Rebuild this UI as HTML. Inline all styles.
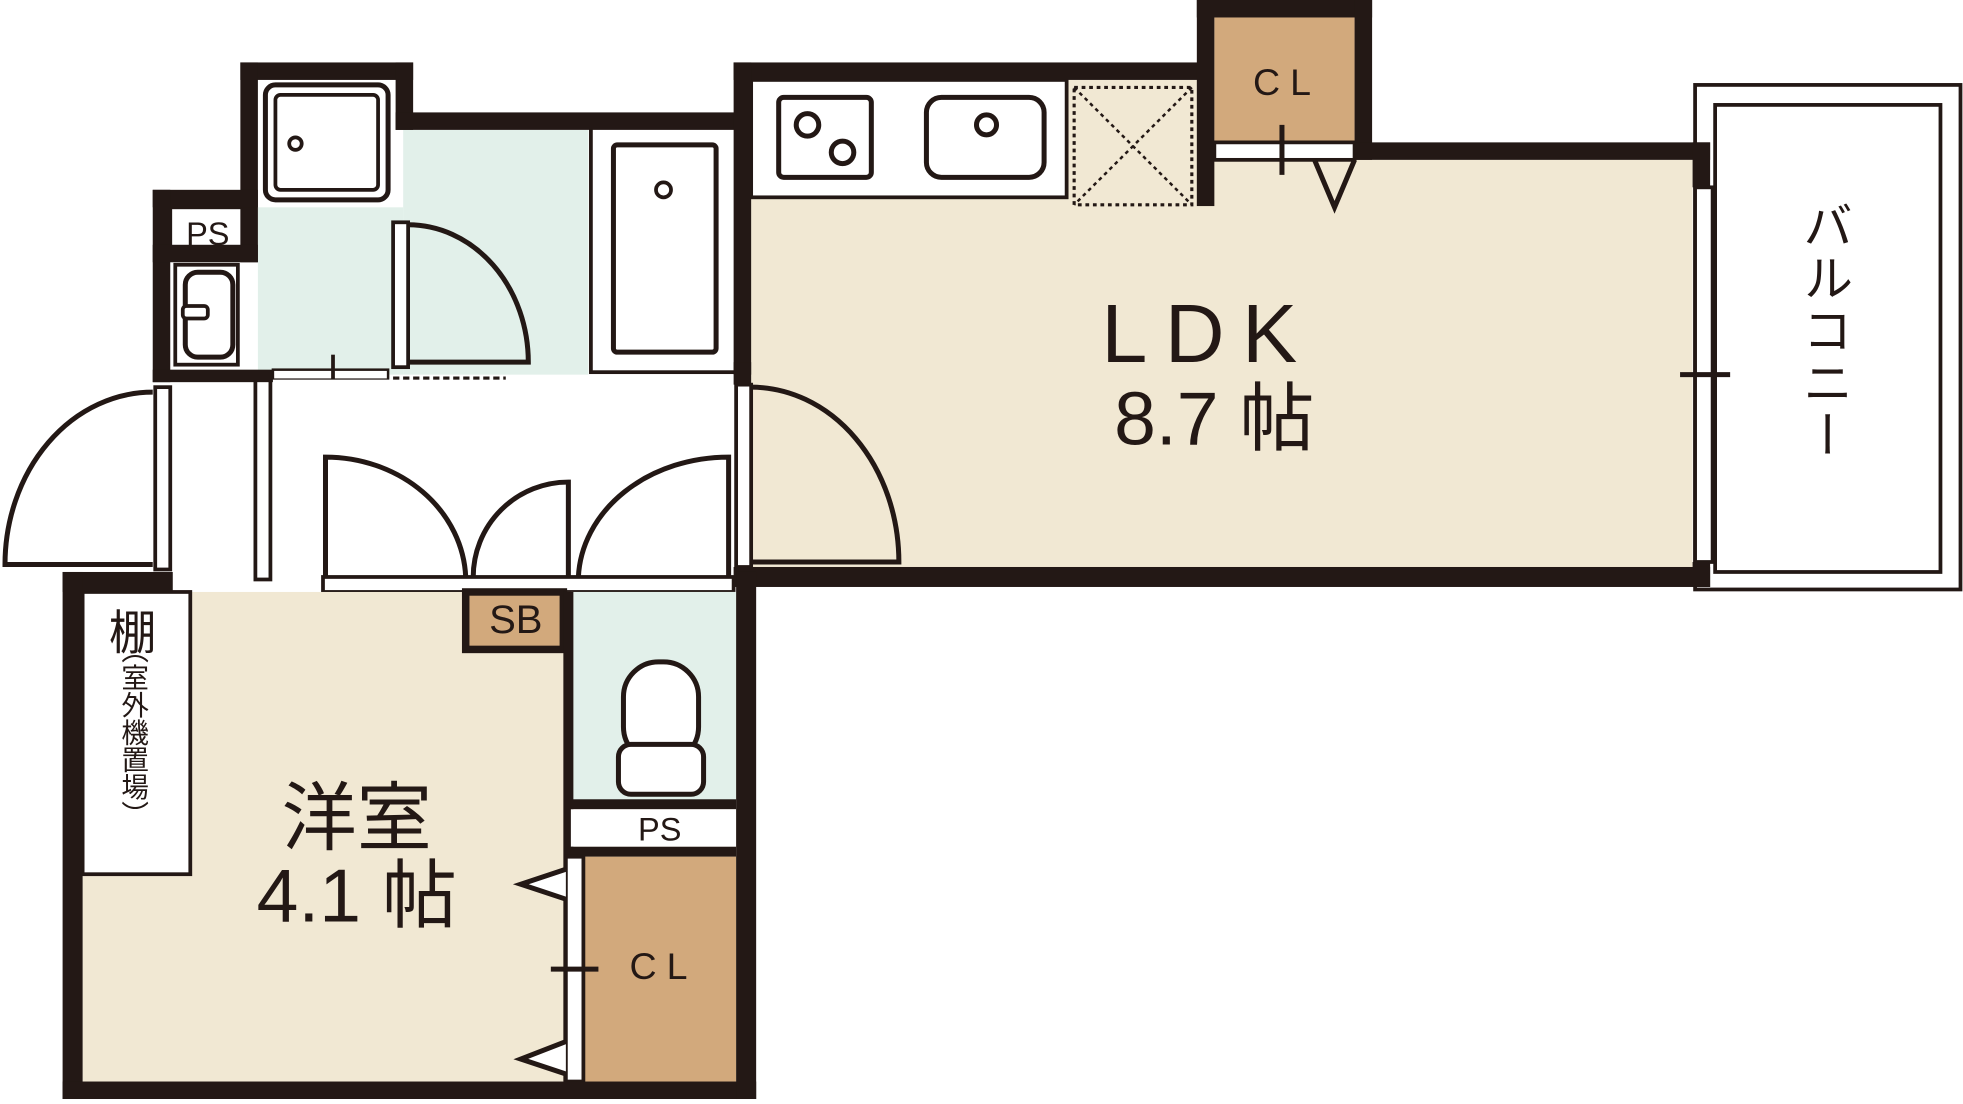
<!DOCTYPE html>
<html><head><meta charset="utf-8"><style>
html,body{margin:0;padding:0;background:#fff;}
svg{display:block;}
text{font-family:"Liberation Sans","Noto Sans CJK JP",sans-serif;fill:#231815;}
</style></head><body>
<svg width="1963" height="1104" viewBox="0 0 1568 884" preserveAspectRatio="none" xmlns="http://www.w3.org/2000/svg">
<rect width="1568" height="884" fill="#fff"/>
<!-- fills -->
<rect x="600" y="64" width="370" height="390" fill="#f1e8d3"/>
<rect x="600" y="128" width="752" height="326" fill="#f1e8d3"/>
<rect x="600" y="64" width="252" height="94" fill="#fff" stroke="#231815" stroke-width="3"/>
<rect x="622" y="78" width="74" height="64" rx="4" fill="#fff" stroke="#231815" stroke-width="4"/>
<circle cx="645" cy="100" r="9" fill="none" stroke="#231815" stroke-width="4"/>
<circle cx="673" cy="122" r="9" fill="none" stroke="#231815" stroke-width="4"/>
<rect x="740" y="78" width="94" height="64" rx="12" fill="#fff" stroke="#231815" stroke-width="4"/>
<circle cx="788" cy="100" r="8" fill="none" stroke="#231815" stroke-width="4"/>
<rect x="858" y="70" width="94" height="94" fill="none" stroke="#231815" stroke-width="2.5" stroke-dasharray="3 3"/>
<path d="M858 70L952 164M952 70L858 164" stroke="#231815" stroke-width="2" stroke-dasharray="3 3"/>
<rect x="970" y="14" width="112" height="100" fill="#d2a97c"/>
<rect x="970" y="114" width="112" height="14" fill="#fff" stroke="#231815" stroke-width="3"/>
<path d="M1024 100V140M1050 128L1066 166L1082 128" stroke="#231815" stroke-width="4" fill="none"/>
<!-- bathroom -->
<rect x="206" y="64" width="116" height="236" fill="#e2f0ea"/>
<rect x="322" y="104" width="148" height="196" fill="#e2f0ea"/>
<rect x="206" y="64" width="116" height="102" fill="#fff"/>
<rect x="212" y="68" width="98" height="92" rx="8" fill="#fff" stroke="#231815" stroke-width="4"/>
<rect x="220" y="76" width="82" height="76" rx="4" fill="none" stroke="#231815" stroke-width="3"/>
<circle cx="236" cy="115" r="5" fill="none" stroke="#231815" stroke-width="3"/>
<rect x="472" y="98" width="118" height="200" fill="#fff" stroke="#231815" stroke-width="3"/>
<rect x="490" y="116" width="82" height="166" rx="3" fill="#fff" stroke="#231815" stroke-width="4"/>
<circle cx="530" cy="152" r="6" fill="none" stroke="#231815" stroke-width="3"/>
<rect x="136" y="166" width="56" height="136" fill="#fff"/>
<rect x="136" y="166" width="64" height="38" fill="#fff" stroke="#231815" stroke-width="3"/>
<rect x="140" y="212" width="50" height="80" fill="#fff" stroke="#231815" stroke-width="3"/>
<rect x="148" y="218" width="38" height="68" rx="10" fill="none" stroke="#231815" stroke-width="4"/>
<rect x="146" y="245" width="20" height="10" rx="3" fill="#fff" stroke="#231815" stroke-width="3"/>
<!-- bath door -->
<rect x="314" y="178" width="12" height="116" fill="#fff" stroke="#231815" stroke-width="3"/>
<path d="M326 180A96 110 0 0 1 422 290H326" fill="none" stroke="#231815" stroke-width="4"/>
<rect x="218" y="296" width="92" height="8" fill="#fff" stroke="#231815" stroke-width="2"/>
<path d="M266 284V316" stroke="#231815" stroke-width="3"/>
<path d="M314 303H404" stroke="#231815" stroke-width="3" stroke-dasharray="5 3"/>
<!-- hallway -->
<rect x="136" y="304" width="450" height="158" fill="#fff"/>
<rect x="124" y="310" width="12" height="146" fill="#fff" stroke="#231815" stroke-width="3"/>
<rect x="204" y="304" width="12" height="160" fill="#fff" stroke="#231815" stroke-width="3"/>
<path d="M122 314A118 138 0 0 0 4 452H122" fill="none" stroke="#231815" stroke-width="4"/>
<rect x="588" y="308" width="12" height="146" fill="#fff" stroke="#231815" stroke-width="3"/>
<path d="M600 310A118 140 0 0 1 718 450H600" fill="none" stroke="#231815" stroke-width="4"/>
<path d="M260 462V366A112 100 0 0 1 372 462" fill="none" stroke="#231815" stroke-width="4"/>
<path d="M454 462V386A76 76 0 0 0 378 462" fill="none" stroke="#231815" stroke-width="4"/>
<path d="M582 462V366A120 100 0 0 0 462 462" fill="none" stroke="#231815" stroke-width="4"/>
<rect x="258" y="462" width="328" height="12" fill="#fff" stroke="#231815" stroke-width="3"/>
<!-- western room -->
<rect x="66" y="474" width="522" height="392" fill="#f1e8d3"/>
<rect x="66" y="474" width="86" height="226" fill="#fff" stroke="#231815" stroke-width="3"/>
<rect x="372" y="474" width="78" height="46" fill="#d2a97c" stroke="#231815" stroke-width="6"/>
<rect x="456" y="474" width="132" height="168" fill="#e2f0ea"/>
<rect x="450" y="474" width="8" height="392" fill="#231815"/>
<rect x="498" y="530" width="60" height="80" rx="28" fill="#fff" stroke="#231815" stroke-width="4"/>
<rect x="494" y="596" width="68" height="40" rx="10" fill="#fff" stroke="#231815" stroke-width="4"/>
<rect x="456" y="640" width="132" height="8" fill="#231815"/>
<rect x="456" y="648" width="132" height="30" fill="#fff"/>
<rect x="456" y="678" width="132" height="8" fill="#231815"/>
<rect x="466" y="686" width="122" height="180" fill="#d2a97c"/>
<rect x="452" y="686" width="14" height="180" fill="#fff" stroke="#231815" stroke-width="3"/>
<path d="M452 696L416 708L452 720M452 834L416 848L452 860M440 776H478" stroke="#231815" stroke-width="4" fill="#fff"/>
<!-- balcony -->
<rect x="1354" y="68" width="212" height="404" fill="none" stroke="#231815" stroke-width="3"/>
<rect x="1370" y="84" width="180" height="374" fill="none" stroke="#231815" stroke-width="3"/>
<rect x="1354" y="150" width="14" height="300" fill="#fff" stroke="#231815" stroke-width="3"/>
<path d="M1342 300H1382" stroke="#231815" stroke-width="4"/>
<!-- walls -->
<g fill="#231815">
<rect x="192" y="50" width="138" height="14"/>
<rect x="192" y="50" width="14" height="160"/>
<rect x="316" y="50" width="14" height="54"/>
<rect x="316" y="90" width="274" height="14"/>
<rect x="122" y="152" width="84" height="14"/>
<rect x="122" y="152" width="14" height="154"/>
<rect x="122" y="196" width="84" height="14"/>
<rect x="586" y="50" width="374" height="14"/>
<rect x="586" y="50" width="14" height="250"/>
<rect x="956" y="0" width="140" height="14"/>
<rect x="956" y="0" width="14" height="165"/>
<rect x="1082" y="0" width="14" height="128"/>
<rect x="1082" y="114" width="284" height="14"/>
<rect x="1352" y="114" width="14" height="36"/>
<rect x="1352" y="450" width="14" height="20"/>
<rect x="586" y="454" width="780" height="16"/>
<rect x="50" y="458" width="88" height="16"/>
<rect x="50" y="458" width="16" height="422"/>
<rect x="50" y="866" width="554" height="14"/>
<rect x="588" y="458" width="16" height="422"/>
<rect x="586" y="290" width="14" height="18"/>
<rect x="122" y="296" width="96" height="10"/>
</g>
<!-- labels -->
<text x="965" y="290" font-size="66" text-anchor="middle" letter-spacing="14">LDK</text>
<text x="970" y="356" font-size="60" text-anchor="middle">8.7 帖</text>
<text x="285" y="676" font-size="60" text-anchor="middle">洋室</text>
<text x="285" y="738" font-size="60" text-anchor="middle">4.1 帖</text>
<text x="1028" y="76" font-size="30" text-anchor="middle" letter-spacing="8">CL</text>
<text x="530" y="784" font-size="30" text-anchor="middle" letter-spacing="8">CL</text>
<text x="166" y="196" font-size="26" text-anchor="middle">PS</text>
<text x="527" y="673" font-size="26" text-anchor="middle">PS</text>
<text x="412" y="507" font-size="32" text-anchor="middle">SB</text>
<text x="106" y="520" font-size="38" text-anchor="middle">棚</text>
<text x="106" y="586" font-size="22" text-anchor="middle" style="writing-mode:vertical-rl">（室外機置場）</text>
<text x="1457" y="160" font-size="40" text-anchor="start" style="writing-mode:vertical-rl" letter-spacing="2">バルコニー</text>
</svg>
</body></html>
